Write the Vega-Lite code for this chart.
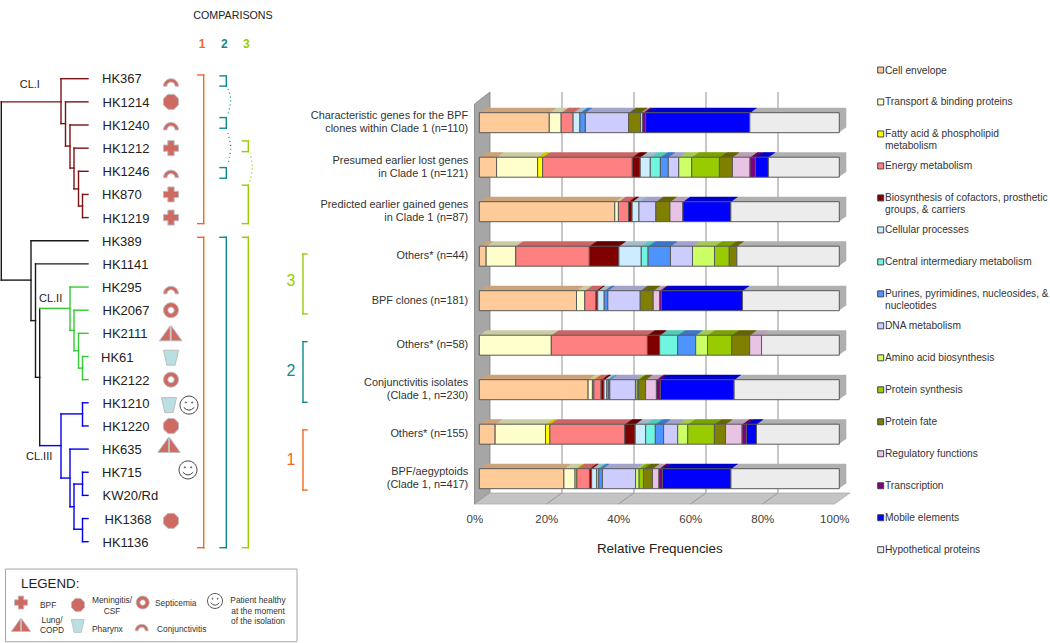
{"$schema":"https://vega.github.io/schema/vega-lite/v6.json","width":1050,"height":643,"padding":0,"autosize":"none","background":"white",
"config":{"view":{"stroke":null},"text":{"font":"Liberation Sans"},"axis":{"labelFont":"Liberation Sans","titleFont":"Liberation Sans"}},
"layer":[
{"layer":[
 {"data":{"values":[{"x":-1.33,"y":-0.42,"y2":8.57},{"x":2.97,"y":-0.69,"y2":8.32}]},"mark":{"type":"area","orient":"vertical","color":"#a6a6a6","stroke":"#808080","strokeWidth":0.8},"encoding":{"x":{"field":"x","type":"quantitative","axis":null,"scale":{"domain":[0,100],"range":[479.3,839.3],"nice":false,"zero":false}},"y":{"field":"y","type":"quantitative","axis":null,"scale":{"domain":[0,8],"range":[122.7,478.7],"nice":false,"zero":false}},"y2":{"field":"y2"}}},
 {"data":{"values":[{"x":2.97,"x2":102.97,"y":8.32},{"x":-1.33,"x2":98.67,"y":8.57}]},"mark":{"type":"area","orient":"horizontal","color":"#c4c4c4","stroke":"#a0a0a0","strokeWidth":0.6},"encoding":{"x":{"field":"x","type":"quantitative","axis":null,"scale":{"domain":[0,100],"range":[479.3,839.3],"nice":false,"zero":false}},"y":{"field":"y","type":"quantitative","axis":null,"scale":{"domain":[0,8],"range":[122.7,478.7],"nice":false,"zero":false}},"x2":{"field":"x2"}}},
 {"data":{"values":[{"x":22.97},{"x":42.97},{"x":62.97},{"x":82.97}]},"mark":{"type":"rule","color":"#a3a3a3","strokeWidth":1.2},"encoding":{"x":{"field":"x","type":"quantitative","axis":null,"scale":{"domain":[0,100],"range":[479.3,839.3],"nice":false,"zero":false}},"y":{"datum":-0.69,"type":"quantitative","axis":null,"scale":{"domain":[0,8],"range":[122.7,478.7],"nice":false,"zero":false}},"y2":{"datum":8.32}}},
 {"data":{"values":[{"x":18.67,"x2":22.97},{"x":38.67,"x2":42.97},{"x":58.67,"x2":62.97},{"x":78.67,"x2":82.97}]},"mark":{"type":"rule","color":"#8c8c8c","strokeWidth":0.8},"encoding":{"x":{"field":"x","type":"quantitative","axis":null,"scale":{"domain":[0,100],"range":[479.3,839.3],"nice":false,"zero":false}},"x2":{"field":"x2"},"y":{"datum":8.57,"type":"quantitative","axis":null,"scale":{"domain":[0,8],"range":[122.7,478.7],"nice":false,"zero":false}},"y2":{"datum":8.32}}}
]},
{"data":{"values":[
{"s":"Characteristic genes for the BPF|clones within Clade 1 (n=110)","c":"Cell envelope","n":0,"v":19.4},{"s":"Characteristic genes for the BPF|clones within Clade 1 (n=110)","c":"Transport & binding proteins","n":1,"v":3.3},{"s":"Characteristic genes for the BPF|clones within Clade 1 (n=110)","c":"Energy metabolism","n":3,"v":3.3},{"s":"Characteristic genes for the BPF|clones within Clade 1 (n=110)","c":"Cellular processes","n":5,"v":1.9},{"s":"Characteristic genes for the BPF|clones within Clade 1 (n=110)","c":"Purines, pyrimidines, nucleosides, & nucleotides","n":7,"v":1.5},{"s":"Characteristic genes for the BPF|clones within Clade 1 (n=110)","c":"DNA metabolism","n":8,"v":12},{"s":"Characteristic genes for the BPF|clones within Clade 1 (n=110)","c":"Protein fate","n":11,"v":3.3},{"s":"Characteristic genes for the BPF|clones within Clade 1 (n=110)","c":"Regulatory functions","n":12,"v":0.6},{"s":"Characteristic genes for the BPF|clones within Clade 1 (n=110)","c":"Transcription","n":13,"v":0.8},{"s":"Characteristic genes for the BPF|clones within Clade 1 (n=110)","c":"Mobile elements","n":14,"v":28.9},{"s":"Characteristic genes for the BPF|clones within Clade 1 (n=110)","c":"Hypothetical proteins","n":15,"v":24.8},
{"s":"Presumed earlier lost genes|in Clade 1 (n=121)","c":"Cell envelope","n":0,"v":4.8},{"s":"Presumed earlier lost genes|in Clade 1 (n=121)","c":"Transport & binding proteins","n":1,"v":11.4},{"s":"Presumed earlier lost genes|in Clade 1 (n=121)","c":"Fatty acid & phospholipid metabolism","n":2,"v":1.4},{"s":"Presumed earlier lost genes|in Clade 1 (n=121)","c":"Energy metabolism","n":3,"v":24.9},{"s":"Presumed earlier lost genes|in Clade 1 (n=121)","c":"Biosynthesis of cofactors, prosthetic groups, & carriers","n":4,"v":2.2},{"s":"Presumed earlier lost genes|in Clade 1 (n=121)","c":"Cellular processes","n":5,"v":2.8},{"s":"Presumed earlier lost genes|in Clade 1 (n=121)","c":"Central intermediary metabolism","n":6,"v":2.8},{"s":"Presumed earlier lost genes|in Clade 1 (n=121)","c":"Purines, pyrimidines, nucleosides, & nucleotides","n":7,"v":2.2},{"s":"Presumed earlier lost genes|in Clade 1 (n=121)","c":"DNA metabolism","n":8,"v":2.9},{"s":"Presumed earlier lost genes|in Clade 1 (n=121)","c":"Amino acid biosynthesis","n":9,"v":3.6},{"s":"Presumed earlier lost genes|in Clade 1 (n=121)","c":"Protein synthesis","n":10,"v":7.7},{"s":"Presumed earlier lost genes|in Clade 1 (n=121)","c":"Protein fate","n":11,"v":3.6},{"s":"Presumed earlier lost genes|in Clade 1 (n=121)","c":"Regulatory functions","n":12,"v":4.9},{"s":"Presumed earlier lost genes|in Clade 1 (n=121)","c":"Transcription","n":13,"v":1.5},{"s":"Presumed earlier lost genes|in Clade 1 (n=121)","c":"Mobile elements","n":14,"v":3.6},{"s":"Presumed earlier lost genes|in Clade 1 (n=121)","c":"Hypothetical proteins","n":15,"v":19.7},
{"s":"Predicted earlier gained genes|in Clade 1 (n=87)","c":"Cell envelope","n":0,"v":37.6},{"s":"Predicted earlier gained genes|in Clade 1 (n=87)","c":"Transport & binding proteins","n":1,"v":1},{"s":"Predicted earlier gained genes|in Clade 1 (n=87)","c":"Energy metabolism","n":3,"v":2.8},{"s":"Predicted earlier gained genes|in Clade 1 (n=87)","c":"Biosynthesis of cofactors, prosthetic groups, & carriers","n":4,"v":1},{"s":"Predicted earlier gained genes|in Clade 1 (n=87)","c":"Cellular processes","n":5,"v":1.9},{"s":"Predicted earlier gained genes|in Clade 1 (n=87)","c":"DNA metabolism","n":8,"v":4.7},{"s":"Predicted earlier gained genes|in Clade 1 (n=87)","c":"Protein fate","n":11,"v":3.9},{"s":"Predicted earlier gained genes|in Clade 1 (n=87)","c":"Regulatory functions","n":12,"v":3.6},{"s":"Predicted earlier gained genes|in Clade 1 (n=87)","c":"Mobile elements","n":14,"v":13.3},{"s":"Predicted earlier gained genes|in Clade 1 (n=87)","c":"Hypothetical proteins","n":15,"v":30.1},
{"s":"Others* (n=44)","c":"Cell envelope","n":0,"v":1.9},{"s":"Others* (n=44)","c":"Transport & binding proteins","n":1,"v":8.2},{"s":"Others* (n=44)","c":"Energy metabolism","n":3,"v":20.4},{"s":"Others* (n=44)","c":"Biosynthesis of cofactors, prosthetic groups, & carriers","n":4,"v":8.2},{"s":"Others* (n=44)","c":"Cellular processes","n":5,"v":6.2},{"s":"Others* (n=44)","c":"Central intermediary metabolism","n":6,"v":1.9},{"s":"Others* (n=44)","c":"Purines, pyrimidines, nucleosides, & nucleotides","n":7,"v":6.2},{"s":"Others* (n=44)","c":"DNA metabolism","n":8,"v":6.1},{"s":"Others* (n=44)","c":"Amino acid biosynthesis","n":9,"v":6.1},{"s":"Others* (n=44)","c":"Protein synthesis","n":10,"v":4.1},{"s":"Others* (n=44)","c":"Protein fate","n":11,"v":2.1},{"s":"Others* (n=44)","c":"Hypothetical proteins","n":15,"v":28.4},
{"s":"BPF clones (n=181)","c":"Cell envelope","n":0,"v":27},{"s":"BPF clones (n=181)","c":"Transport & binding proteins","n":1,"v":2.3},{"s":"BPF clones (n=181)","c":"Energy metabolism","n":3,"v":3.1},{"s":"BPF clones (n=181)","c":"Biosynthesis of cofactors, prosthetic groups, & carriers","n":4,"v":0.5},{"s":"BPF clones (n=181)","c":"Cellular processes","n":5,"v":1.8},{"s":"BPF clones (n=181)","c":"Purines, pyrimidines, nucleosides, & nucleotides","n":7,"v":1},{"s":"BPF clones (n=181)","c":"DNA metabolism","n":8,"v":9},{"s":"BPF clones (n=181)","c":"Protein fate","n":11,"v":3.6},{"s":"BPF clones (n=181)","c":"Regulatory functions","n":12,"v":1.8},{"s":"BPF clones (n=181)","c":"Transcription","n":13,"v":0.5},{"s":"BPF clones (n=181)","c":"Mobile elements","n":14,"v":22.5},{"s":"BPF clones (n=181)","c":"Hypothetical proteins","n":15,"v":26.9},
{"s":"Others* (n=58)","c":"Transport & binding proteins","n":1,"v":20},{"s":"Others* (n=58)","c":"Energy metabolism","n":3,"v":26.7},{"s":"Others* (n=58)","c":"Biosynthesis of cofactors, prosthetic groups, & carriers","n":4,"v":3.4},{"s":"Others* (n=58)","c":"Central intermediary metabolism","n":6,"v":5},{"s":"Others* (n=58)","c":"Purines, pyrimidines, nucleosides, & nucleotides","n":7,"v":5},{"s":"Others* (n=58)","c":"Amino acid biosynthesis","n":9,"v":3.3},{"s":"Others* (n=58)","c":"Protein synthesis","n":10,"v":6.7},{"s":"Others* (n=58)","c":"Protein fate","n":11,"v":5},{"s":"Others* (n=58)","c":"Regulatory functions","n":12,"v":3.3},{"s":"Others* (n=58)","c":"Hypothetical proteins","n":15,"v":21.6},
{"s":"Conjunctivitis isolates|(Clade 1, n=230)","c":"Cell envelope","n":0,"v":30.1},{"s":"Conjunctivitis isolates|(Clade 1, n=230)","c":"Transport & binding proteins","n":1,"v":1.2},{"s":"Conjunctivitis isolates|(Clade 1, n=230)","c":"Fatty acid & phospholipid metabolism","n":2,"v":0.4},{"s":"Conjunctivitis isolates|(Clade 1, n=230)","c":"Energy metabolism","n":3,"v":2},{"s":"Conjunctivitis isolates|(Clade 1, n=230)","c":"Biosynthesis of cofactors, prosthetic groups, & carriers","n":4,"v":0.8},{"s":"Conjunctivitis isolates|(Clade 1, n=230)","c":"Cellular processes","n":5,"v":0.8},{"s":"Conjunctivitis isolates|(Clade 1, n=230)","c":"Central intermediary metabolism","n":6,"v":0.4},{"s":"Conjunctivitis isolates|(Clade 1, n=230)","c":"Purines, pyrimidines, nucleosides, & nucleotides","n":7,"v":0.4},{"s":"Conjunctivitis isolates|(Clade 1, n=230)","c":"DNA metabolism","n":8,"v":7.1},{"s":"Conjunctivitis isolates|(Clade 1, n=230)","c":"Amino acid biosynthesis","n":9,"v":0.5},{"s":"Conjunctivitis isolates|(Clade 1, n=230)","c":"Protein synthesis","n":10,"v":0.4},{"s":"Conjunctivitis isolates|(Clade 1, n=230)","c":"Protein fate","n":11,"v":1.9},{"s":"Conjunctivitis isolates|(Clade 1, n=230)","c":"Regulatory functions","n":12,"v":3},{"s":"Conjunctivitis isolates|(Clade 1, n=230)","c":"Transcription","n":13,"v":1.1},{"s":"Conjunctivitis isolates|(Clade 1, n=230)","c":"Mobile elements","n":14,"v":20.4},{"s":"Conjunctivitis isolates|(Clade 1, n=230)","c":"Hypothetical proteins","n":15,"v":29.1},
{"s":"Others* (n=155)","c":"Cell envelope","n":0,"v":4.4},{"s":"Others* (n=155)","c":"Transport & binding proteins","n":1,"v":14},{"s":"Others* (n=155)","c":"Fatty acid & phospholipid metabolism","n":2,"v":1.2},{"s":"Others* (n=155)","c":"Energy metabolism","n":3,"v":20.8},{"s":"Others* (n=155)","c":"Biosynthesis of cofactors, prosthetic groups, & carriers","n":4,"v":2.9},{"s":"Others* (n=155)","c":"Cellular processes","n":5,"v":2.9},{"s":"Others* (n=155)","c":"Central intermediary metabolism","n":6,"v":2.7},{"s":"Others* (n=155)","c":"Purines, pyrimidines, nucleosides, & nucleotides","n":7,"v":2.3},{"s":"Others* (n=155)","c":"DNA metabolism","n":8,"v":3.9},{"s":"Others* (n=155)","c":"Amino acid biosynthesis","n":9,"v":2.8},{"s":"Others* (n=155)","c":"Protein synthesis","n":10,"v":7.4},{"s":"Others* (n=155)","c":"Protein fate","n":11,"v":3.1},{"s":"Others* (n=155)","c":"Regulatory functions","n":12,"v":4.6},{"s":"Others* (n=155)","c":"Transcription","n":13,"v":1.2},{"s":"Others* (n=155)","c":"Mobile elements","n":14,"v":2.8},{"s":"Others* (n=155)","c":"Hypothetical proteins","n":15,"v":23},
{"s":"BPF/aegyptoids|(Clade 1, n=417)","c":"Cell envelope","n":0,"v":23.5},{"s":"BPF/aegyptoids|(Clade 1, n=417)","c":"Transport & binding proteins","n":1,"v":3.1},{"s":"BPF/aegyptoids|(Clade 1, n=417)","c":"Fatty acid & phospholipid metabolism","n":2,"v":0.5},{"s":"BPF/aegyptoids|(Clade 1, n=417)","c":"Energy metabolism","n":3,"v":3.5},{"s":"BPF/aegyptoids|(Clade 1, n=417)","c":"Biosynthesis of cofactors, prosthetic groups, & carriers","n":4,"v":0.6},{"s":"BPF/aegyptoids|(Clade 1, n=417)","c":"Cellular processes","n":5,"v":1.4},{"s":"BPF/aegyptoids|(Clade 1, n=417)","c":"Central intermediary metabolism","n":6,"v":0.6},{"s":"BPF/aegyptoids|(Clade 1, n=417)","c":"Purines, pyrimidines, nucleosides, & nucleotides","n":7,"v":1},{"s":"BPF/aegyptoids|(Clade 1, n=417)","c":"DNA metabolism","n":8,"v":9.2},{"s":"BPF/aegyptoids|(Clade 1, n=417)","c":"Amino acid biosynthesis","n":9,"v":1},{"s":"BPF/aegyptoids|(Clade 1, n=417)","c":"Protein synthesis","n":10,"v":1.2},{"s":"BPF/aegyptoids|(Clade 1, n=417)","c":"Protein fate","n":11,"v":2.5},{"s":"BPF/aegyptoids|(Clade 1, n=417)","c":"Regulatory functions","n":12,"v":1.8},{"s":"BPF/aegyptoids|(Clade 1, n=417)","c":"Transcription","n":13,"v":1},{"s":"BPF/aegyptoids|(Clade 1, n=417)","c":"Mobile elements","n":14,"v":19},{"s":"BPF/aegyptoids|(Clade 1, n=417)","c":"Hypothetical proteins","n":15,"v":30.1}
]},
"transform":[{"stack":"v","groupby":["s"],"sort":[{"field":"n","order":"ascending"}],"offset":"normalize","as":["s0","s1"]}],
"encoding":{
 "x":{"field":"s0","type":"quantitative","scale":{"domain":[0,1],"range":[479.3,839.3],"nice":false,"zero":false},"axis":{"title":"Relative Frequencies","titleFontSize":13.4,"titleFontWeight":"normal","titleColor":"#222222","titlePadding":17,"offset":-139,"values":[0,0.2,0.4,0.6,0.8,1],"format":".0%","labelFontSize":11.5,"labelColor":"#404040","labelOffset":-5,"labelPadding":9,"labelFlush":false,"ticks":false,"domain":false,"grid":false}},
 "x2":{"field":"s1"},
 "y":{"field":"s","type":"nominal","sort":["Characteristic genes for the BPF|clones within Clade 1 (n=110)","Presumed earlier lost genes|in Clade 1 (n=121)","Predicted earlier gained genes|in Clade 1 (n=87)","Others* (n=44)","BPF clones (n=181)","Others* (n=58)","Conjunctivitis isolates|(Clade 1, n=230)","Others* (n=155)","BPF/aegyptoids|(Clade 1, n=417)"],"scale":{"range":[100.45,500.95],"paddingInner":0,"paddingOuter":0},"axis":{"title":null,"offset":-467.7,"ticks":false,"domain":false,"grid":false,"labelPadding":0,"labelLimit":0,"labelFontSize":10.9,"labelColor":"#333333","labelLineHeight":13,"labelOffset":{"condition":{"test":"indexof(datum.value,'|')>=0","value":-6.5},"value":0},"labelExpr":"split(datum.label,'|')"}}
},
"layer":[
 {"encoding":{"color":{"field":"c","type":"nominal","legend":null,"scale":{"domain":["Cell envelope","Transport & binding proteins","Fatty acid & phospholipid metabolism","Energy metabolism","Biosynthesis of cofactors, prosthetic groups, & carriers","Cellular processes","Central intermediary metabolism","Purines, pyrimidines, nucleosides, & nucleotides","DNA metabolism","Amino acid biosynthesis","Protein synthesis","Protein fate","Regulatory functions","Transcription","Mobile elements","Hypothetical proteins"],"range":["#cca37a","#cccca3","#cccc00","#cc6666","#660000","#a3bdcc","#52ccb8","#3d76cc","#a3a3cc","#a3cc52","#7aa300","#666600","#baa0b6","#660066","#0000cc","#b0b0b0"]}}},
 "layer":[
  {"mark":{"type":"bar","size":20,"xOffset":7,"x2Offset":7,"yOffset":-5}},
  {"mark":{"type":"bar","size":20,"xOffset":6,"x2Offset":6,"yOffset":-4.3}},
  {"mark":{"type":"bar","size":20,"xOffset":5,"x2Offset":5,"yOffset":-3.6}},
  {"mark":{"type":"bar","size":20,"xOffset":4,"x2Offset":4,"yOffset":-2.9}},
  {"mark":{"type":"bar","size":20,"xOffset":3,"x2Offset":3,"yOffset":-2.1}},
  {"mark":{"type":"bar","size":20,"xOffset":2,"x2Offset":2,"yOffset":-1.4}},
  {"mark":{"type":"bar","size":20,"xOffset":1,"x2Offset":1,"yOffset":-0.7}}
 ]},
 {"mark":{"type":"bar","size":20,"stroke":"#595959","strokeWidth":1},"encoding":{"color":{"field":"c","type":"nominal","legend":null,"scale":{"domain":["Cell envelope","Transport & binding proteins","Fatty acid & phospholipid metabolism","Energy metabolism","Biosynthesis of cofactors, prosthetic groups, & carriers","Cellular processes","Central intermediary metabolism","Purines, pyrimidines, nucleosides, & nucleotides","DNA metabolism","Amino acid biosynthesis","Protein synthesis","Protein fate","Regulatory functions","Transcription","Mobile elements","Hypothetical proteins"],"range":["#ffcc99","#ffffcc","#ffff00","#ff8080","#800000","#ccecff","#70f5e0","#4d94ff","#ccccff","#ccff66","#99cc00","#808000","#e9c3e3","#800080","#0000ff","#ececec"]}}}}
],
"resolve":{"scale":{"color":"independent"}}
},
{"data":{"values":[
{"c":"Cell envelope","t":"Cell envelope"},{"c":"Transport & binding proteins","t":"Transport & binding proteins"},{"c":"Fatty acid & phospholipid metabolism","t":"Fatty acid & phospholipid|metabolism"},{"c":"Energy metabolism","t":"Energy metabolism"},{"c":"Biosynthesis of cofactors, prosthetic groups, & carriers","t":"Biosynthesis of cofactors, prosthetic|groups, & carriers"},{"c":"Cellular processes","t":"Cellular processes"},{"c":"Central intermediary metabolism","t":"Central intermediary metabolism"},{"c":"Purines, pyrimidines, nucleosides, & nucleotides","t":"Purines, pyrimidines, nucleosides, &|nucleotides"},{"c":"DNA metabolism","t":"DNA metabolism"},{"c":"Amino acid biosynthesis","t":"Amino acid biosynthesis"},{"c":"Protein synthesis","t":"Protein synthesis"},{"c":"Protein fate","t":"Protein fate"},{"c":"Regulatory functions","t":"Regulatory functions"},{"c":"Transcription","t":"Transcription"},{"c":"Mobile elements","t":"Mobile elements"},{"c":"Hypothetical proteins","t":"Hypothetical proteins"}
]},
"encoding":{"y":{"field":"c","type":"nominal","axis":null,"sort":null,"scale":{"type":"point","padding":0,"range":[70,549.7]}}},
"layer":[
 {"mark":{"type":"point","filled":true,"shape":"square","size":36,"stroke":"#444444","strokeWidth":1,"opacity":1},"encoding":{"x":{"datum":0,"type":"quantitative","axis":null,"scale":{"domain":[0,1],"range":[880.7,885],"nice":false,"zero":false}},"color":{"field":"c","type":"nominal","legend":null,"scale":{"domain":["Cell envelope","Transport & binding proteins","Fatty acid & phospholipid metabolism","Energy metabolism","Biosynthesis of cofactors, prosthetic groups, & carriers","Cellular processes","Central intermediary metabolism","Purines, pyrimidines, nucleosides, & nucleotides","DNA metabolism","Amino acid biosynthesis","Protein synthesis","Protein fate","Regulatory functions","Transcription","Mobile elements","Hypothetical proteins"],"range":["#ffcc99","#ffffcc","#ffff00","#ff8080","#800000","#ccecff","#70f5e0","#4d94ff","#ccccff","#ccff66","#99cc00","#808000","#e9c3e3","#800080","#0000ff","#ececec"]}}}},
 {"mark":{"type":"text","align":"left","baseline":"top","dy":-4.5,"fontSize":10.2,"lineHeight":11.6,"lineBreak":"|","color":"#333333"},"encoding":{"x":{"datum":1,"type":"quantitative","axis":null,"scale":{"domain":[0,1],"range":[880.7,885],"nice":false,"zero":false}},"text":{"field":"t"}}}
]},
{"encoding":{
 "x":{"field":"x","type":"quantitative","axis":null,"scale":{"domain":[0,1050],"range":[0,1050],"nice":false,"zero":false}},
 "y":{"field":"y","type":"quantitative","axis":null,"scale":{"domain":[0,20],"range":[78.7,541.7],"nice":false,"zero":false}},
 "color":{"field":"c","type":"nominal","legend":null,"scale":{"domain":["root","I","II","III","cmp1","cmp2","cmp3","BPF","Meningitis/CSF","Septicemia","Lung/COPD","Pharynx","Conjunctivitis"],"range":["#1a1a1a","#7d1215","#33cc33","#0000ee","#f26a21","#0f8a8a","#99cc00","#cf6a63","#cf6a63","#cf6a63","#cf6a63","#b9dfe3","#cf6a63"]}}
},
"layer":[
 {"data":{"values":[{"x":5.5,"x2":297,"y":21.18,"y2":24.32}]},"mark":{"type":"rect","fill":"white","stroke":"#a6a6a6","strokeWidth":1},"encoding":{"x2":{"field":"x2"},"y2":{"field":"y2"},"color":{"value":"white"}}},
 {"data":{"values":[
 {"x":1.3,"x2":61,"y":1,"y2":1,"c":"I"},{"x":61,"x2":61,"y":0,"y2":1.94,"c":"I"},{"x":61,"x2":88,"y":0,"y2":0,"c":"I"},{"x":61,"x2":65.5,"y":1.94,"y2":1.94,"c":"I"},{"x":65.5,"x2":65.5,"y":1,"y2":2.91,"c":"I"},{"x":65.5,"x2":88,"y":1,"y2":1,"c":"I"},{"x":65.5,"x2":70,"y":2.91,"y2":2.91,"c":"I"},{"x":70,"x2":70,"y":2,"y2":3.86,"c":"I"},{"x":70,"x2":88,"y":2,"y2":2,"c":"I"},{"x":70,"x2":74,"y":3.86,"y2":3.86,"c":"I"},{"x":74,"x2":74,"y":3,"y2":4.76,"c":"I"},{"x":74,"x2":88,"y":3,"y2":3,"c":"I"},{"x":74,"x2":78.5,"y":4.76,"y2":4.76,"c":"I"},{"x":78.5,"x2":78.5,"y":4,"y2":5.5,"c":"I"},{"x":78.5,"x2":88,"y":4,"y2":4,"c":"I"},{"x":78.5,"x2":82.5,"y":5.5,"y2":5.5,"c":"I"},{"x":82.5,"x2":82.5,"y":5,"y2":6,"c":"I"},{"x":82.5,"x2":88,"y":5,"y2":5,"c":"I"},{"x":82.5,"x2":88,"y":6,"y2":6,"c":"I"},
 {"x":1.3,"x2":1.3,"y":1,"y2":8.7,"c":"root"},{"x":1.3,"x2":31,"y":8.7,"y2":8.7,"c":"root"},{"x":31,"x2":31,"y":7,"y2":10.45,"c":"root"},{"x":31,"x2":88,"y":7,"y2":7,"c":"root"},{"x":31,"x2":35.5,"y":10.45,"y2":10.45,"c":"root"},{"x":35.5,"x2":35.5,"y":8,"y2":12.9,"c":"root"},{"x":35.5,"x2":88,"y":8,"y2":8,"c":"root"},{"x":35.5,"x2":39.7,"y":12.9,"y2":12.9,"c":"root"},{"x":39.7,"x2":39.7,"y":9.92,"y2":15.85,"c":"root"},
 {"x":39.7,"x2":70,"y":9.92,"y2":9.92,"c":"II"},{"x":70,"x2":70,"y":9,"y2":10.87,"c":"II"},{"x":70,"x2":88,"y":9,"y2":9,"c":"II"},{"x":70,"x2":74,"y":10.87,"y2":10.87,"c":"II"},{"x":74,"x2":74,"y":10,"y2":11.75,"c":"II"},{"x":74,"x2":88,"y":10,"y2":10,"c":"II"},{"x":74,"x2":78.5,"y":11.75,"y2":11.75,"c":"II"},{"x":78.5,"x2":78.5,"y":11,"y2":12.5,"c":"II"},{"x":78.5,"x2":88,"y":11,"y2":11,"c":"II"},{"x":78.5,"x2":82.5,"y":12.5,"y2":12.5,"c":"II"},{"x":82.5,"x2":82.5,"y":12,"y2":13,"c":"II"},{"x":82.5,"x2":88,"y":12,"y2":12,"c":"II"},{"x":82.5,"x2":88,"y":13,"y2":13,"c":"II"},
 {"x":39.7,"x2":61,"y":15.85,"y2":15.85,"c":"III"},{"x":61,"x2":61,"y":14.48,"y2":17.25,"c":"III"},{"x":61,"x2":82.5,"y":14.48,"y2":14.48,"c":"III"},{"x":82.5,"x2":82.5,"y":14,"y2":15,"c":"III"},{"x":82.5,"x2":88,"y":14,"y2":14,"c":"III"},{"x":82.5,"x2":88,"y":15,"y2":15,"c":"III"},{"x":61,"x2":70,"y":17.25,"y2":17.25,"c":"III"},{"x":70,"x2":70,"y":16,"y2":18.49,"c":"III"},{"x":70,"x2":88,"y":16,"y2":16,"c":"III"},{"x":70,"x2":74,"y":18.49,"y2":18.49,"c":"III"},{"x":74,"x2":74,"y":17.51,"y2":19.46,"c":"III"},{"x":74,"x2":82.5,"y":17.51,"y2":17.51,"c":"III"},{"x":82.5,"x2":82.5,"y":17,"y2":18,"c":"III"},{"x":82.5,"x2":88,"y":17,"y2":17,"c":"III"},{"x":82.5,"x2":88,"y":18,"y2":18,"c":"III"},{"x":74,"x2":82.5,"y":19.46,"y2":19.46,"c":"III"},{"x":82.5,"x2":82.5,"y":19,"y2":20,"c":"III"},{"x":82.5,"x2":88,"y":19,"y2":19,"c":"III"},{"x":82.5,"x2":88,"y":20,"y2":20,"c":"III"},
 {"x":197.7,"x2":203.7,"y":-0.16,"y2":-0.16,"c":"cmp1"},{"x":203.7,"x2":203.7,"y":-0.16,"y2":6.26,"c":"cmp1"},{"x":197.7,"x2":203.7,"y":6.26,"y2":6.26,"c":"cmp1"},{"x":197.7,"x2":203.7,"y":6.85,"y2":6.85,"c":"cmp1"},{"x":203.7,"x2":203.7,"y":6.85,"y2":20.26,"c":"cmp1"},{"x":197.7,"x2":203.7,"y":20.26,"y2":20.26,"c":"cmp1"},
 {"x":220,"x2":226.3,"y":-0.12,"y2":-0.12,"c":"cmp2"},{"x":226.3,"x2":226.3,"y":-0.12,"y2":0.32,"c":"cmp2"},{"x":220,"x2":226.3,"y":0.32,"y2":0.32,"c":"cmp2"},{"x":220,"x2":226.3,"y":1.68,"y2":1.68,"c":"cmp2"},{"x":226.3,"x2":226.3,"y":1.68,"y2":2.14,"c":"cmp2"},{"x":220,"x2":226.3,"y":2.14,"y2":2.14,"c":"cmp2"},{"x":220,"x2":226.3,"y":3.84,"y2":3.84,"c":"cmp2"},{"x":226.3,"x2":226.3,"y":3.84,"y2":4.3,"c":"cmp2"},{"x":220,"x2":226.3,"y":4.3,"y2":4.3,"c":"cmp2"},{"x":220,"x2":226.3,"y":6.85,"y2":6.85,"c":"cmp2"},{"x":226.3,"x2":226.3,"y":6.85,"y2":20.26,"c":"cmp2"},{"x":220,"x2":226.3,"y":20.26,"y2":20.26,"c":"cmp2"},
 {"x":242.3,"x2":248.3,"y":2.69,"y2":2.69,"c":"cmp3"},{"x":248.3,"x2":248.3,"y":2.69,"y2":3.15,"c":"cmp3"},{"x":242.3,"x2":248.3,"y":3.15,"y2":3.15,"c":"cmp3"},{"x":242.3,"x2":248.3,"y":4.6,"y2":4.6,"c":"cmp3"},{"x":248.3,"x2":248.3,"y":4.6,"y2":6.26,"c":"cmp3"},{"x":242.3,"x2":248.3,"y":6.26,"y2":6.26,"c":"cmp3"},{"x":242.3,"x2":248.3,"y":6.85,"y2":6.85,"c":"cmp3"},{"x":248.3,"x2":248.3,"y":6.85,"y2":20.26,"c":"cmp3"},{"x":242.3,"x2":248.3,"y":20.26,"y2":20.26,"c":"cmp3"},
 {"x":303,"x2":307,"y":7.57,"y2":7.57,"c":"cmp3"},{"x":303,"x2":303,"y":7.57,"y2":10.16,"c":"cmp3"},{"x":303,"x2":307,"y":10.16,"y2":10.16,"c":"cmp3"},{"x":303,"x2":307,"y":11.36,"y2":11.36,"c":"cmp2"},{"x":303,"x2":303,"y":11.36,"y2":13.98,"c":"cmp2"},{"x":303,"x2":307,"y":13.98,"y2":13.98,"c":"cmp2"},{"x":303,"x2":307,"y":15.17,"y2":15.17,"c":"cmp1"},{"x":303,"x2":303,"y":15.17,"y2":17.77,"c":"cmp1"},{"x":303,"x2":307,"y":17.77,"y2":17.77,"c":"cmp1"}
 ]},"mark":{"type":"rule","strokeWidth":1.4,"strokeCap":"square"},"encoding":{"x2":{"field":"x2"},"y2":{"field":"y2"}}},
 {"data":{"values":[
 {"k":"a","t":0,"x":228,"y":0.44,"c":"cmp2"},{"k":"a","t":1,"x":230.7,"y":0.92,"c":"cmp2"},{"k":"a","t":2,"x":228,"y":1.57,"c":"cmp2"},
 {"k":"b","t":0,"x":228,"y":2.35,"c":"cmp2"},{"k":"b","t":1,"x":230.7,"y":2.99,"c":"cmp2"},{"k":"b","t":2,"x":228,"y":3.68,"c":"cmp2"},
 {"k":"d","t":0,"x":250,"y":3.2,"c":"cmp3"},{"k":"d","t":1,"x":252.3,"y":3.8,"c":"cmp3"},{"k":"d","t":2,"x":250,"y":4.45,"c":"cmp3"}
 ]},"mark":{"type":"line","interpolate":"cardinal","strokeWidth":1.4,"strokeDash":[1,3]},"encoding":{"detail":{"field":"k"},"order":{"field":"t"}}},
 {"data":{"values":[
 {"t":"HK367","x":102,"y":-0.05},{"t":"HK1214","x":102.5,"y":1},{"t":"HK1240","x":102.5,"y":2},{"t":"HK1212","x":102.5,"y":3},{"t":"HK1246","x":102.5,"y":4},{"t":"HK870","x":102,"y":5},{"t":"HK1219","x":102.5,"y":6},{"t":"HK389","x":102,"y":7},{"t":"HK1141","x":102.5,"y":8},{"t":"HK295","x":102,"y":9},{"t":"HK2067","x":102.5,"y":10},{"t":"HK2111","x":102.5,"y":11},{"t":"HK61","x":101,"y":12},{"t":"HK2122","x":102.5,"y":13},{"t":"HK1210","x":102.5,"y":14},{"t":"HK1220","x":102.5,"y":15},{"t":"HK635","x":102,"y":16},{"t":"HK715","x":102,"y":17},{"t":"KW20/Rd","x":102.5,"y":18},{"t":"HK1368","x":104.5,"y":19},{"t":"HK1136","x":102.5,"y":20}
 ]},"mark":{"type":"text","align":"left","baseline":"middle","fontSize":13,"dy":1},"encoding":{"text":{"field":"t"},"color":{"value":"#222222"}}},
 {"data":{"values":[
 {"c":"Conjunctivitis","x":171,"y":0.13},{"c":"Meningitis/CSF","x":171,"y":1},{"c":"Conjunctivitis","x":171,"y":2.02},{"c":"BPF","x":171,"y":3},{"c":"Conjunctivitis","x":171,"y":4.08},{"c":"BPF","x":171,"y":5},{"c":"BPF","x":171,"y":6},{"c":"Conjunctivitis","x":171,"y":9.1},{"c":"Septicemia","x":171,"y":10},{"c":"Lung/COPD","x":170.7,"y":11},{"c":"Pharynx","x":171,"y":12.05},{"c":"Septicemia","x":171,"y":13},{"c":"Pharynx","x":169,"y":14.1},{"c":"Meningitis/CSF","x":171,"y":15},{"c":"Lung/COPD","x":169,"y":15.82},{"c":"Meningitis/CSF","x":171,"y":19.1}
 ]},"mark":{"type":"point","filled":true,"size":225,"stroke":"#bdbdbd","strokeWidth":1,"opacity":1},"encoding":{"shape":{"field":"c","type":"nominal","legend":null,"scale":{"domain":["BPF","Meningitis/CSF","Septicemia","Lung/COPD","Pharynx","Conjunctivitis"],"range":["M-.42 -1L.42 -1L.42 -.42L1 -.42L1 .42L.42 .42L.42 1L-.42 1L-.42 .42L-1 .42L-1 -.42L-.42 -.42Z","M-.41 -1L.41 -1L1 -.41L1 .41L.41 1L-.41 1L-1 .41L-1 -.41Z","M-1 0A1 1 0 1 1 1 0A1 1 0 1 1 -1 0ZM-.42 0A.42 .42 0 1 0 .42 0A.42 .42 0 1 0 -.42 0Z","M-.07 -1L-.07 1L-1.5 1ZM.07 -1L1.5 1L.07 1Z","M-1 -1L1 -1L.55 1L-.55 1Z","M-1 .6A1 1 0 0 1 1 .6L.55 .6A.55 .55 0 0 0 -.55 .6Z"]}}}},
 {"data":{"values":[
 {"c":"BPF","x":21,"y":22.63},{"c":"Meningitis/CSF","x":78,"y":22.73},{"c":"Septicemia","x":142.7,"y":22.63},{"c":"Lung/COPD","x":21,"y":23.6},{"c":"Pharynx","x":77.7,"y":23.64},{"c":"Conjunctivitis","x":141.7,"y":23.68}
 ]},"mark":{"type":"point","filled":true,"size":169,"stroke":"#bdbdbd","strokeWidth":0.8,"opacity":1},"encoding":{"shape":{"field":"c","type":"nominal","legend":null,"scale":{"domain":["BPF","Meningitis/CSF","Septicemia","Lung/COPD","Pharynx","Conjunctivitis"],"range":["M-.42 -1L.42 -1L.42 -.42L1 -.42L1 .42L.42 .42L.42 1L-.42 1L-.42 .42L-1 .42L-1 -.42L-.42 -.42Z","M-.41 -1L.41 -1L1 -.41L1 .41L.41 1L-.41 1L-1 .41L-1 -.41Z","M-1 0A1 1 0 1 1 1 0A1 1 0 1 1 -1 0ZM-.42 0A.42 .42 0 1 0 .42 0A.42 .42 0 1 0 -.42 0Z","M-.07 -1L-.07 1L-1.5 1ZM.07 -1L1.5 1L.07 1Z","M-1 -1L1 -1L.55 1L-.55 1Z","M-1 .6A1 1 0 0 1 1 .6L.55 .6A.55 .55 0 0 0 -.55 .6Z"]}}}},
 {"data":{"values":[{"x":189,"y":14.1},{"x":188,"y":16.9}]},"mark":{"type":"point","filled":false,"fill":"white","stroke":"#444444","strokeWidth":1,"size":225,"opacity":1,"shape":"M-1.2 0A1.2 1.2 0 1 1 1.2 0A1.2 1.2 0 1 1 -1.2 0ZM-.7 .3Q0 1.05 .7 .3M-.5 -.35A.08 .08 0 1 1 -.34 -.35A.08 .08 0 1 1 -.5 -.35ZM.34 -.35A.08 .08 0 1 1 .5 -.35A.08 .08 0 1 1 .34 -.35Z"},"encoding":{"color":{"value":"#444444"}}},
 {"data":{"values":[{"x":215,"y":22.56}]},"mark":{"type":"point","filled":false,"fill":"white","stroke":"#444444","strokeWidth":0.9,"size":156,"opacity":1,"shape":"M-1.2 0A1.2 1.2 0 1 1 1.2 0A1.2 1.2 0 1 1 -1.2 0ZM-.7 .3Q0 1.05 .7 .3M-.5 -.35A.08 .08 0 1 1 -.34 -.35A.08 .08 0 1 1 -.5 -.35ZM.34 -.35A.08 .08 0 1 1 .5 -.35A.08 .08 0 1 1 .34 -.35Z"},"encoding":{"color":{"value":"#444444"}}},
 {"data":{"values":[{"t":"COMPARISONS","x":233,"y":-2.71}]},"mark":{"type":"text","align":"center","baseline":"middle","fontSize":10.7},"encoding":{"text":{"field":"t"},"color":{"value":"#222222"}}},
 {"data":{"values":[{"t":"1","x":202,"y":-1.48,"c":"cmp1"},{"t":"2","x":224.3,"y":-1.48,"c":"cmp2"},{"t":"3","x":246.3,"y":-1.48,"c":"cmp3"}]},"mark":{"type":"text","align":"center","baseline":"middle","fontSize":12,"fontWeight":"bold"},"encoding":{"text":{"field":"t"}}},
 {"data":{"values":[{"t":"3","x":291,"y":8.73,"c":"cmp3"},{"t":"2","x":291,"y":12.61,"c":"cmp2"},{"t":"1","x":291,"y":16.47,"c":"cmp1"}]},"mark":{"type":"text","align":"center","baseline":"middle","fontSize":16},"encoding":{"text":{"field":"t"}}},
 {"data":{"values":[{"t":"CL.I","x":19.7,"y":0.27},{"t":"CL.II","x":39,"y":9.52},{"t":"CL.III","x":26,"y":16.34}]},"mark":{"type":"text","align":"left","baseline":"middle","fontSize":11},"encoding":{"text":{"field":"t"},"color":{"value":"#222222"}}},
 {"data":{"values":[{"t":"LEGEND:","x":21,"y":21.83}]},"mark":{"type":"text","align":"left","baseline":"middle","fontSize":13.3},"encoding":{"text":{"field":"t"},"color":{"value":"#222222"}}},
 {"data":{"values":[{"t":"BPF","x":40,"y":22.73},{"t":"Septicemia","x":155,"y":22.65},{"t":"Pharynx","x":92,"y":23.77},{"t":"Conjunctivitis","x":157,"y":23.77}]},"mark":{"type":"text","align":"left","baseline":"middle","fontSize":8.4},"encoding":{"text":{"field":"t"},"color":{"value":"#333333"}}},
 {"data":{"values":[{"t":"Meningitis/|CSF","x":112,"y":22.52}]},"mark":{"type":"text","align":"center","baseline":"middle","fontSize":8.4,"lineBreak":"|","lineHeight":11},"encoding":{"text":{"field":"t"},"color":{"value":"#333333"}}},
 {"data":{"values":[{"t":"Patient healthy|at the moment|of the isolation","x":258,"y":22.52},{"t":"Lung/|COPD","x":52,"y":23.38}]},"mark":{"type":"text","align":"center","baseline":"middle","fontSize":8.4,"lineBreak":"|","lineHeight":10.5},"encoding":{"text":{"field":"t"},"color":{"value":"#333333"}}}
]}
],
"resolve":{"scale":{"x":"independent","y":"independent","color":"independent","shape":"independent"},"axis":{"x":"independent","y":"independent"}}
}
